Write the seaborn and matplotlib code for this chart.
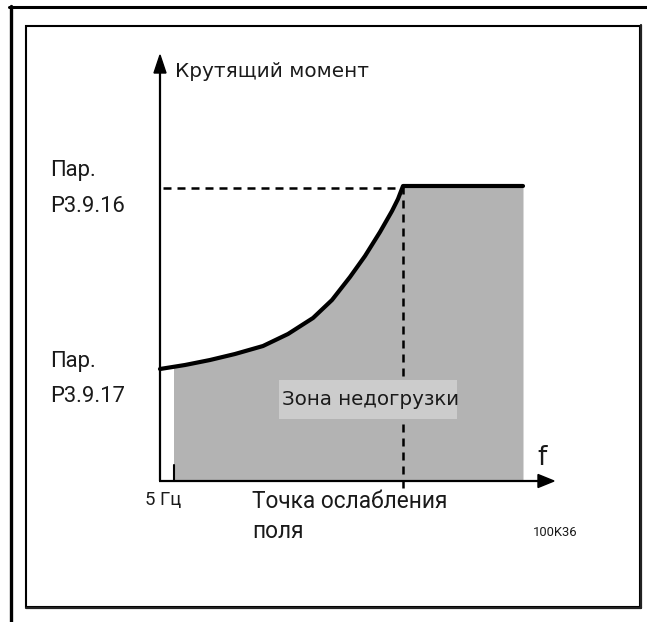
import matplotlib
matplotlib.use("Agg")
import matplotlib.pyplot as plt
from matplotlib.patches import Rectangle, Polygon
from matplotlib.lines import Line2D
import numpy as np
import pandas as pd
import seaborn as sns

# Torque curve (relative units: frequency to the right, torque upward)
freq = [0, 25, 50, 75, 103, 128, 153, 172, 190, 205, 220, 232, 238, 243, 363]
torque = [112, 116, 121, 127, 135, 147, 163, 181, 204, 225, 249, 270, 282, 295, 295]

f_min = 14          # 5 Hz
f_weak = 243        # field weakening point
p3916 = 295         # upper underload level
p3917 = 112         # lower underload level

y_label = "Крутящий момент"
x_label = "f"
zone_label = "Зона недогрузки"
f_min_label = "5 Гц"
f_weak_label = ["Точка ослабления", "поля"]
p3916_label = ["Пар.", "P3.9.16"]
p3917_label = ["Пар.", "P3.9.17"]
code_label = "100K36"

sns.set_style("white")
plt.rcParams["font.family"] = ["DejaVu Sans"]

W, H = 647, 622
fig = plt.figure(figsize=(W / 100, H / 100), dpi=100)
ax = fig.add_axes([0, 0, 1, 1])
ox, oy = 160, 481  # origin of the diagram on the sheet
ax.set_xlim(-ox, W - ox)
ax.set_ylim(oy - H, oy)
ax.axis("off")

# sheet frame
fig.add_artist(Line2D([9 / W, 1], [1 - 7 / H, 1 - 7 / H], color="black", lw=2.2,
                      transform=fig.transFigure))
fig.add_artist(Line2D([10.5 / W, 10.5 / W], [0, 1 - 5.8 / H], color="black", lw=2.4,
                      transform=fig.transFigure))
fig.add_artist(Rectangle((26 / W, 1 - 607 / H), (640 - 26) / W, (607 - 25.5) / H,
                         fill=False, ec="black", lw=1.5, transform=fig.transFigure))
fig.add_artist(Line2D([640.5 / W, 640.5 / W], [1 - 608 / H, 1 - 25 / H], color="#222222",
                      lw=1.6, transform=fig.transFigure))
fig.add_artist(Line2D([26 / W, 641 / W], [1 - 607.5 / H, 1 - 607.5 / H], color="#222222",
                      lw=1.6, transform=fig.transFigure))

df = pd.DataFrame({"f": freq, "T": torque})

# underload zone
fill = ax.fill_between(df["f"], 0, df["T"], color="#b3b3b3", lw=0, zorder=1)
clip = Rectangle((f_min, -5), freq[-1] - f_min, 400, transform=ax.transData)
fill.set_clip_path(clip)

# guide lines
ax.plot([3, f_weak], [p3916 - 1.5, p3916 - 1.5], color="black", lw=1.8,
        dashes=(3.2, 2.4), zorder=2)
ax.plot([f_weak, f_weak], [p3916, -9], color="black", lw=1.8,
        dashes=(3.2, 2.4), zorder=2)

# axes with arrows
ax.plot([0, 0], [0, 410], color="black", lw=1.6, zorder=3, solid_capstyle="butt")
ax.add_patch(Polygon([[0, 426], [-6, 408], [6, 408]], closed=True, color="black", zorder=3))
ax.plot([-1, 380], [0, 0], color="black", lw=1.6, zorder=3, solid_capstyle="butt")
ax.add_patch(Polygon([[394, 0], [378, 6.5], [378, -6.5]], closed=True, color="black", zorder=3))
ax.plot([f_min, f_min], [0, 16], color="black", lw=1.5, zorder=3)

# torque curve
sns.lineplot(data=df, x="f", y="T", ax=ax, color="black", lw=3.0, sort=False,
             estimator=None, zorder=4)
ax.lines[-1].set_solid_capstyle("round")
ax.lines[-1].set_solid_joinstyle("round")

# labels
txt = "#1a1a1a"
ax.text(15, oy - 77, y_label, fontsize=14.4, ha="left", va="baseline", color=txt)
ax.text(377, oy - 465, x_label, fontsize=19, ha="left", va="baseline", color=txt)
ax.add_patch(Rectangle((279 - ox, oy - 419), 178, 39, color="#cccccc", lw=0, zorder=2))
ax.text(282 - ox, oy - 405, zone_label, fontsize=14.3, ha="left", va="baseline", zorder=3,
        color=txt)

rob = ["Roboto", "DejaVu Sans"]
ax.text(50 - ox, oy - 176, p3916_label[0], fontsize=15.8, family=rob, va="baseline", color=txt)
ax.text(50 - ox, oy - 212, p3916_label[1], fontsize=15.8, family=rob, va="baseline", color=txt)
ax.text(50 - ox, oy - 367, p3917_label[0], fontsize=15.8, family=rob, va="baseline", color=txt)
ax.text(50 - ox, oy - 402, p3917_label[1], fontsize=15.8, family=rob, va="baseline", color=txt)
ax.text(145 - ox, oy - 505, f_min_label, fontsize=13.3, family=rob, va="baseline", color=txt)
ax.text(252 - ox, oy - 508, f_weak_label[0], fontsize=16.3, family=rob, va="baseline", color=txt)
ax.text(252 - ox, oy - 538, f_weak_label[1], fontsize=16.3, family=rob, va="baseline", color=txt)
ax.text(533 - ox, oy - 536, code_label, fontsize=9.4, family=rob, va="baseline", color=txt)

fig.savefig("out.png", dpi=100)
